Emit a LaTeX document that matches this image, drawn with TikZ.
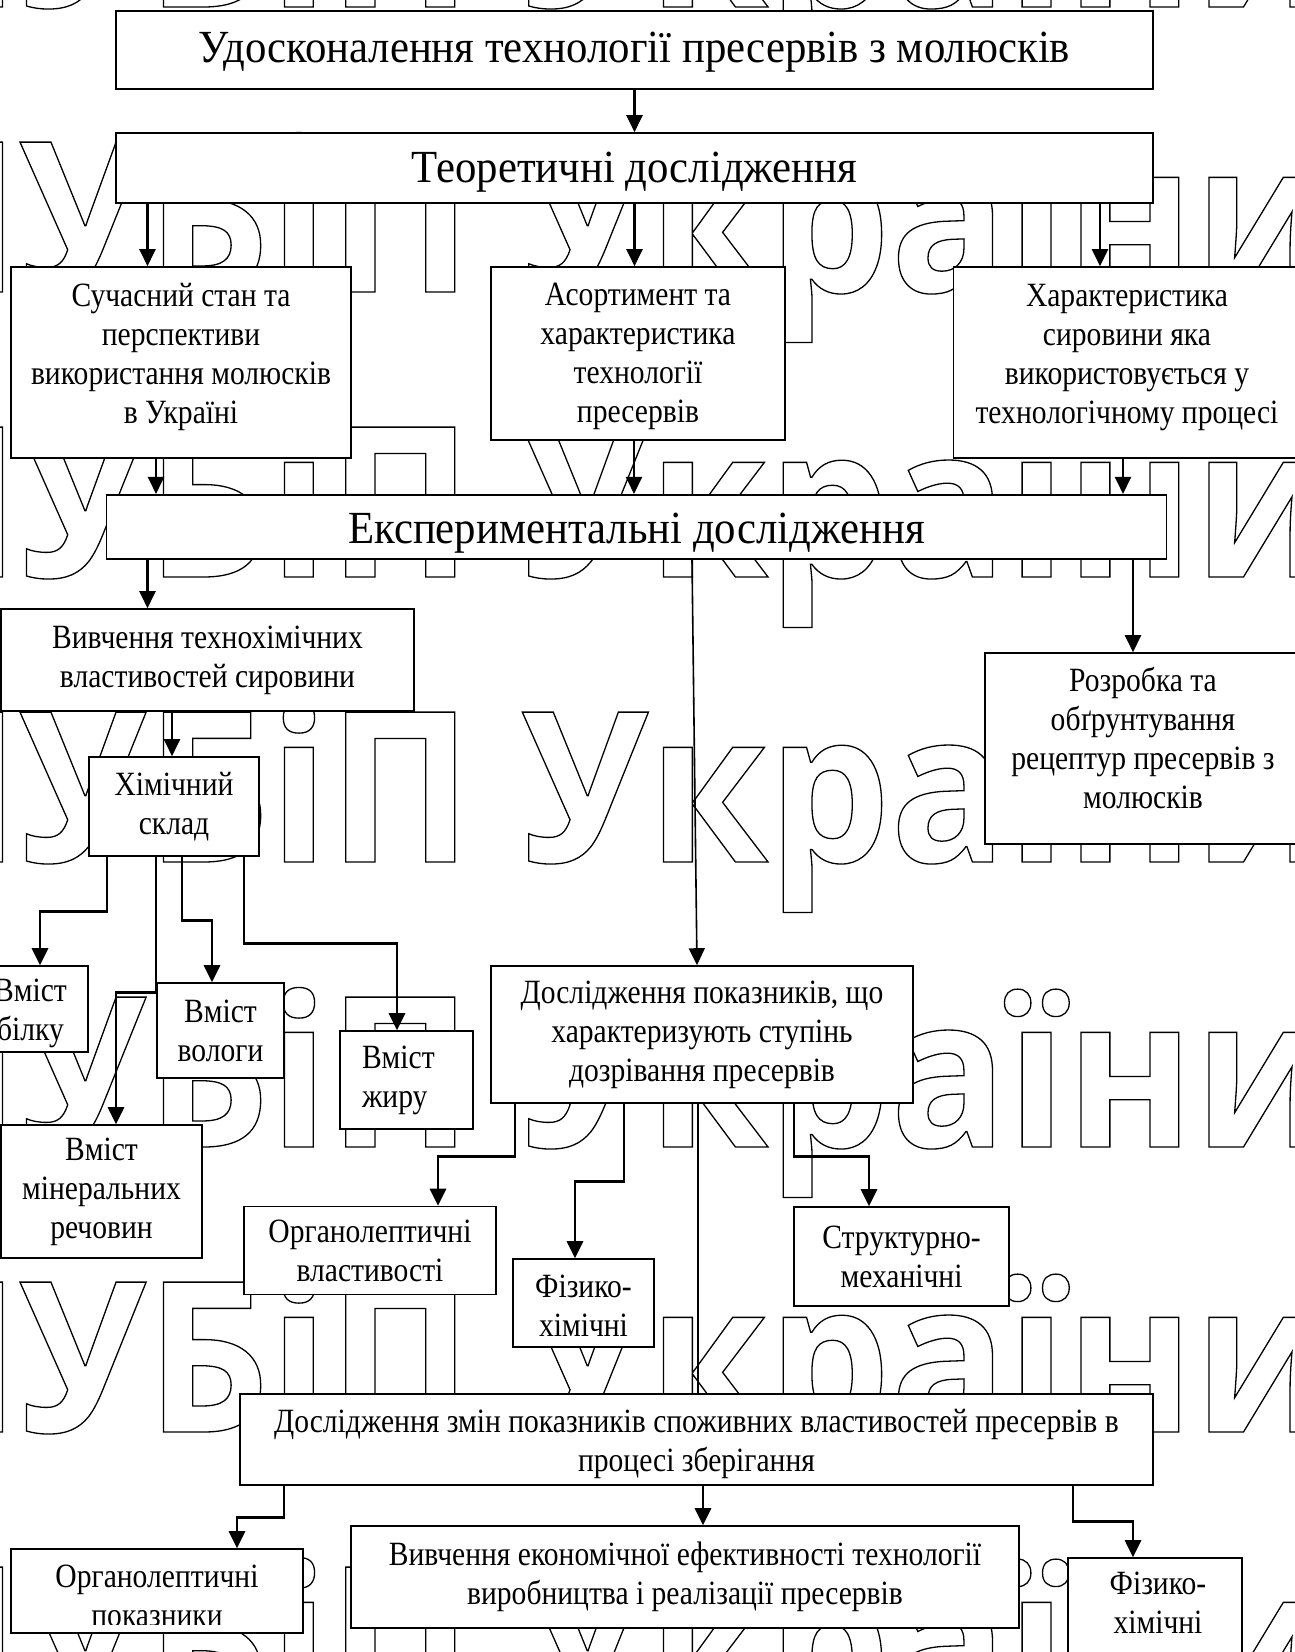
\documentclass[tikz,border=0pt]{standalone}
\usepackage{fontspec}
\setmainfont{Liberation Serif}[FakeStretch=0.87]
\newfontfamily\titlefont{Liberation Serif}[FakeStretch=0.93]
\newfontfamily\wmfont{Open Sans}[FakeStretch=0.92]
\usetikzlibrary{arrows.meta}

\newcommand{\bodysize}{\fontsize{34}{39}\selectfont}
\newcommand{\titlesize}{\titlefont\fontsize{46}{53}\selectfont}
\newcommand{\outlined}[1]{\special{pdf:literal direct 1 Tr 1.3 w}#1\special{pdf:literal direct 0 Tr}}
\newcommand{\shifted}[2]{\raisebox{#1}[\height][\depth]{\begin{tabular}{@{}c@{}}#2\end{tabular}}}

\tikzset{
  scheme/.style={
    x=1pt, y=-1pt,
    every node/.style={align=center, font=\bodysize}
  }
}

\begin{document}
\begin{tikzpicture}[scheme]
    \tikzstyle{box}=[draw, fill=white, line width=1.6pt, inner sep=1pt]
    \tikzstyle{title}=[box, font=\titlesize]
    \tikzstyle{arr}=[line width=2.2pt, -{Triangle[length=17pt,width=16pt]}]
    \tikzstyle{heavy}=[arr, line width=2.8pt]
    \tikzstyle{wm}=[anchor=base west, inner sep=0pt, font=\wmfont\bfseries\fontsize{210}{210}\selectfont]
    \useasboundingbox (0,0) rectangle (1295,1652);

    \foreach \row in {7,292,577,862,1147,1432,1717}
        \node[wm] (wm\row) at (-128,\row) {\outlined{НУБіП України}};

    \node[title, minimum width=1037, minimum height=78] (aim) at (634.5,50) {\shifted{-2pt}{Удосконалення технології пресервів з молюсків}};
    \node[title, minimum width=1037, minimum height=70] (theory) at (634.5,168) {\shifted{-4pt}{Теоретичні дослідження}};
    \node[box, minimum width=340, minimum height=191] (T_1) at (181,362.5) {\shifted{5pt}{Сучасний стан та\\перспективи\\використання молюсків\\в Україні}};
    \node[box, minimum width=294, minimum height=173] (T_2) at (638,353.5) {\shifted{-3pt}{Асортимент та\\характеристика\\технології\\пресервів}};
    \node[box, minimum width=347, minimum height=191] (T_3) at (1127,362.5) {\shifted{5pt}{Характеристика\\сировини яка\\використовується у\\технологічному процесі}};
    \node[title, minimum width=1060, minimum height=64.5] (exper) at (636.4,527) {\shifted{-6pt}{Експериментальні дослідження}};
    \node[box, minimum width=413, minimum height=102] (E_1) at (207.5,660) {Вивчення технохімічних\\властивостей сировини};
    \node[box, minimum width=316, minimum height=191] (E_2) at (1143,748.5) {\shifted{6pt}{Розробка та\\обґрунтування\\рецептур пресервів з\\молюсків}};
    \node[box, minimum width=422, minimum height=137] (E_3) at (702,1034.5) {Дослідження показників, що\\характеризують ступінь\\дозрівання пресервів};
    \node[box, minimum width=170, minimum height=99] (C) at (174,806.5) {Хімічний\\склад};
    \node[box, minimum width=115, minimum height=86] (C_1) at (30.5,1009) {\shifted{-4pt}{Вміст\\білку}};
    \node[box, minimum width=127, minimum height=95] (C_2) at (220.5,1030.5) {Вміст\\вологи};
    \node[box, text width=89pt, align=left, minimum width=133, minimum height=98] (C_3) at (406.5,1080) {Вміст\\жиру};
    \node[box, minimum width=201, minimum height=133] (C_4) at (101.5,1191.5) {Вміст\\мінеральних\\речовин};
    \node[box, minimum width=252, minimum height=88] (M_1) at (370,1250.5) {Органолептичні\\властивості};
    \node[box, minimum width=141, minimum height=88] (M_2) at (583.5,1303) {\shifted{-6pt}{Фізико-\\хімічні}};
    \node[box, minimum width=215, minimum height=99] (M_3) at (901.5,1256.5) {Структурно-\\механічні};
    \node[box, minimum width=913, minimum height=91] (store) at (696.5,1439.5) {\shifted{-5pt}{Дослідження змін показників споживних властивостей пресервів в\\процесі зберігання}};
    \node[box, minimum width=292, minimum height=84] (S_1) at (157,1591) {};
    \begin{scope}
        \clip (S_1.north west) rectangle (S_1.east |- 0,1624);
        \node[anchor=base] (S_1t) at (157,1626) {Органолептичні\\показники};
    \end{scope}
    \node[box, minimum width=668, minimum height=102] (S_2) at (685,1577) {Вивчення економічної ефективності технології\\виробництва і реалізації пресервів};
    \node[box, minimum width=174, minimum height=150] (S_3) at (1155,1633) {};
    \node[anchor=base] (S_3t) at (1158,1633) {Фізико-\\хімічні};

    \draw[arr] (aim) -- (theory);
    \draw[arr] (theory.south -| 147.5,0) -- (T_1.north -| 147.5,0);
    \draw[arr] (theory.south) -- (T_2.north -| theory.south);
    \draw[arr] (theory.south -| 1100,0) -- (T_3.north -| 1100,0);
    \draw[arr] (T_1.south -| 156,0) -- (exper.north -| 156,0);
    \draw[arr] (T_2.south -| 634,0) -- (exper.north -| 634,0);
    \draw[arr] (T_3.south -| 1123,0) -- (exper.north -| 1123,0);
    \draw[arr] (exper.south -| 147.5,0) -- (E_1.north -| 147.5,0);
    \draw[arr] (exper.south -| 1133,0) -- (E_2.north -| 1133,0);
    \draw[arr, line width=1.6pt] (exper.south -| 692,0) -- (E_3.north -| 697,0);
    \draw[arr] (E_1.south -| 172,0) -- (C.north -| 172,0);
    \draw[heavy] (C.south -| 107,0) -- ++(0,55) -| (C_1.north -| 40,0);
    \draw[heavy] (C.south -| 156,0) -- ++(0,136) -| (C_4.north -| 116,0);
    \draw[heavy] (C.south -| 182,0) -- ++(0,64) -| (C_2.north -| 212,0);
    \draw[heavy] (C.south -| 244,0) -- ++(0,87) -| (C_3.north -| 397,0);
    \draw[heavy] (E_3.south -| 515,0) -- ++(0,53) -| (M_1.north -| 438,0);
    \draw[heavy] (E_3.south -| 624,0) -- ++(0,78) -| (M_2.north -| 575,0);
    \draw[line width=1.4pt] (E_3.south -| 698,0) -- (store.north -| 698,0);
    \draw[heavy] (E_3.south -| 794,0) -- ++(0,53) -| (M_3.north -| 869,0);
    \draw[heavy] (store.south -| 284,0) -- ++(0,32) -| (S_1.north -| 237,0);
    \draw[heavy] (store.south -| 703,0) -- (S_2.north -| 703,0);
    \draw[heavy] (store.south -| 1073,0) -- ++(0,36) -| (S_3.north -| 1133,0);
\end{tikzpicture}
\end{document}
